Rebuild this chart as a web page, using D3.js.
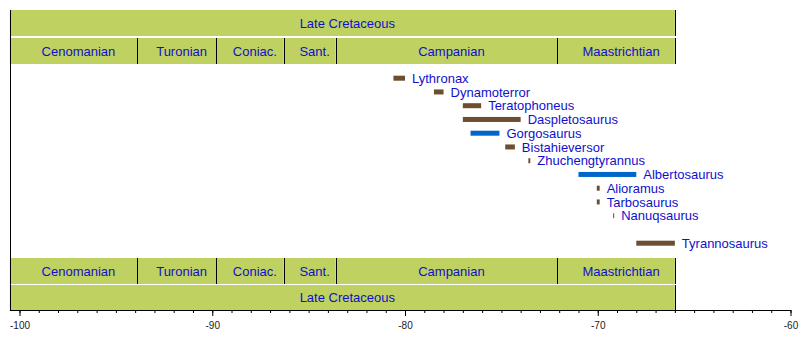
<!DOCTYPE html>
<html>
<head>
<meta charset="utf-8">
<script src="https://cdn.jsdelivr.net/npm/d3@7"></script>
<style>
  body { margin: 0; background: #fff; }
  svg { display: block; font-family: "Liberation Sans", Arial, Helvetica, sans-serif; }
</style>
</head>
<body>
<svg></svg>
<script>
// chart data
const epochName = 'Late Cretaceous'
const epochSpan = [-100.5, -66.0]

const stages = ['Cenomanian', 'Turonian', 'Coniac.', 'Sant.', 'Campanian', 'Maastrichtian']
const stageStart = [-100.5, -93.9, -89.8, -86.3, -83.6, -72.1]
const stageEnd = [-93.9, -89.8, -86.3, -83.6, -72.1, -66.0]

const species = ['Lythronax', 'Dynamoterror', 'Teratophoneus', 'Daspletosaurus', 'Gorgosaurus',
    'Bistahieversor', 'Zhuchengtyrannus', 'Albertosaurus', 'Alioramus', 'Tarbosaurus',
    'Nanuqsaurus', 'Tyrannosaurus']
const speciesStart = [-80.6, -78.5, -77.0, -77.0, -76.6, -74.8, -73.6, -71.0, -70.05, -70.05, -69.2, -68.0]
const speciesEnd = [-80.0, -78.0, -76.05, -74.0, -75.1, -74.3, -73.5, -68.0, -69.9, -69.9, -69.15, -66.0]
const speciesGroup = ['tyr', 'tyr', 'tyr', 'tyr', 'alb', 'tyr', 'tyr', 'alb', 'tyr', 'tyr', 'tyr', 'tyr']

const axisTicks = [-100, -90, -80, -70, -60]

// canvas
const width = 800
const height = 360
const svg = d3.select('svg').attr('width', width).attr('height', height)

const x = d3.scaleLinear().domain([-100, -60]).range([19.5, 790.5])
const rowSlots = [...species.slice(0, 11), '__gap__', species[11]]
const y = d3.scalePoint().domain(rowSlots).range([78.2, 243.2])
const colour = d3.scaleOrdinal().domain(['tyr', 'alb']).range(['#6b4f30', '#0066cc'])

const bandFill = '#bfd160'
const textBlue = '#1010cc'
const axisY = 310

// band rows: [top, height]
const epochRows = [[10, 26], [285, 25]]
const stageRows = [[38, 26], [258, 26]]

function drawBand(top, h, names, starts, ends) {
    let g = svg.append('g')
    // fills first, then borders on top of them
    names.forEach((name, i) => {
        let x0 = x(starts[i]), x1 = x(ends[i])
        g.append('rect')
            .attr('x', x0).attr('y', top)
            .attr('width', x1 - x0).attr('height', h)
            .attr('fill', bandFill)
    })
    names.forEach((name, i) => {
        let x0 = x(starts[i]), x1 = x(ends[i])
        g.append('line')
            .attr('x1', Math.round(x1) + 0.5).attr('x2', Math.round(x1) + 0.5)
            .attr('y1', top).attr('y2', top + h)
            .attr('stroke', '#000')
        g.append('text')
            .attr('x', (x0 + x1) / 2 + 5)
            .attr('y', top + h / 2)
            .attr('dy', '0.35em')
            .attr('text-anchor', 'middle')
            .attr('font-size', 13)
            .attr('fill', textBlue)
            .text(name)
    })
}

epochRows.forEach(r => drawBand(r[0], r[1], [epochName], [epochSpan[0]], [epochSpan[1]]))
stageRows.forEach(r => drawBand(r[0], r[1], stages, stageStart, stageEnd))

// left frame line
svg.append('line')
    .attr('x1', Math.round(x(-100.5)) + 0.5).attr('x2', Math.round(x(-100.5)) + 0.5)
    .attr('y1', 10).attr('y2', axisY)
    .attr('stroke', '#000')

// species bars
const bars = svg.append('g')
species.forEach((name, i) => {
    let x0 = x(speciesStart[i]), x1 = x(speciesEnd[i])
    bars.append('rect')
        .attr('x', x0).attr('y', y(name) - 2.5)
        .attr('width', Math.max(1, x1 - x0)).attr('height', 5)
        .attr('fill', colour(speciesGroup[i]))
    bars.append('text')
        .attr('x', x1 + 7)
        .attr('y', y(name))
        .attr('dy', '0.35em')
        .attr('font-size', 13)
        .attr('fill', textBlue)
        .text(name)
})

// axis
const minor = svg.append('g')
    .attr('transform', 'translate(0,' + axisY + ')')
    .call(d3.axisBottom(x).tickValues(d3.range(-100, -59, 1)).tickSize(3).tickFormat(''))
minor.select('.domain').remove()

const major = svg.append('g')
    .attr('transform', 'translate(0,' + axisY + ')')
    .call(d3.axisBottom(x).tickValues(axisTicks).tickSize(6).tickPadding(5.5).tickFormat(d => String(d)))
major.select('.domain').remove()
major.selectAll('text')
    .attr('font-size', 10)
    .attr('font-family', '"Liberation Sans", Arial, sans-serif')
    .attr('fill', '#222')

svg.append('line')
    .attr('x1', x(-100.5)).attr('x2', x(-60) + 0.5)
    .attr('y1', axisY + 0.5).attr('y2', axisY + 0.5)
    .attr('stroke', '#000')
</script>
</body>
</html>
